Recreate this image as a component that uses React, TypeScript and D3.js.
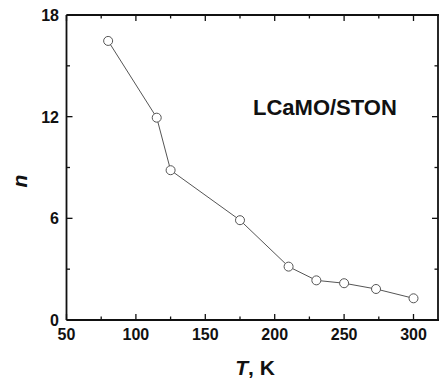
import React from "react";
import * as d3 from "d3";

// Temperature (K) and ideality factor n
const temperatures = [80, 115, 125, 175, 210, 230, 250, 273, 300];
const nValues = [16.47, 11.94, 8.84, 5.89, 3.15, 2.34, 2.17, 1.83, 1.28];

const xMajorTicks = [50, 100, 150, 200, 250, 300];
const xMinorTicks = [75, 125, 175, 225, 275];
const yMajorTicks = [0, 6, 12, 18];
const yMinorTicks = [3, 9, 15];

const W = 439;
const H = 381;
const left = 66.5;
const right = 439;
const top = 15;
const bottom = 320;

export default function App() {
  const x = d3.scaleLinear().domain([50, 50 + (right - left) / 1.388]).range([left, right]);
  const y = d3.scaleLinear().domain([0, 18]).range([bottom, top]);
  const line = d3
    .line<number>()
    .x((_, i) => x(temperatures[i]))
    .y((d) => y(d));

  const font = "'Liberation Sans', Arial, sans-serif";
  const axisColor = "#111";

  return (
    <svg
      width={W}
      height={H}
      style={{ position: "absolute", left: 0, top: 0, background: "#fff" }}
      fontFamily={font}
    >
      {/* frame */}
      <line x1={left} x2={left} y1={top} y2={bottom} stroke={axisColor} strokeWidth={1.8} />
      <line x1={left} x2={right} y1={bottom} y2={bottom} stroke={axisColor} strokeWidth={1.8} />
      <line x1={left} x2={right} y1={top} y2={top} stroke={axisColor} strokeWidth={1.8} />
      <line x1={right - 1} x2={right - 1} y1={top} y2={bottom} stroke={axisColor} strokeWidth={1.8} />

      {/* x ticks, bottom and top, inward */}
      {xMajorTicks.map((t) => (
        <g key={"xM" + t}>
          <line x1={x(t)} x2={x(t)} y1={bottom} y2={bottom - 6} stroke={axisColor} strokeWidth={1.3} />
          <line x1={x(t)} x2={x(t)} y1={top} y2={top + 6} stroke={axisColor} strokeWidth={1.3} />
          <text x={x(t)} y={340} textAnchor="middle" fontSize={16} fontWeight="bold" fill="#111">
            {t}
          </text>
        </g>
      ))}
      {xMinorTicks.map((t) => (
        <g key={"xm" + t}>
          <line x1={x(t)} x2={x(t)} y1={bottom} y2={bottom - 3.5} stroke={axisColor} strokeWidth={1.3} />
          <line x1={x(t)} x2={x(t)} y1={top} y2={top + 3.5} stroke={axisColor} strokeWidth={1.3} />
        </g>
      ))}

      {/* y ticks, left and right, inward */}
      {yMajorTicks.map((t) => (
        <g key={"yM" + t}>
          <line x1={left} x2={left + 6} y1={y(t)} y2={y(t)} stroke={axisColor} strokeWidth={1.3} />
          <line x1={right - 1} x2={right - 7} y1={y(t)} y2={y(t)} stroke={axisColor} strokeWidth={1.3} />
          <text x={59} y={y(t) + 6} textAnchor="end" fontSize={16} fontWeight="bold" fill="#111">
            {t}
          </text>
        </g>
      ))}
      {yMinorTicks.map((t) => (
        <g key={"ym" + t}>
          <line x1={left} x2={left + 3.5} y1={y(t)} y2={y(t)} stroke={axisColor} strokeWidth={1.3} />
          <line x1={right - 1} x2={right - 4.5} y1={y(t)} y2={y(t)} stroke={axisColor} strokeWidth={1.3} />
        </g>
      ))}

      {/* data */}
      <path d={line(nValues) || ""} fill="none" stroke="#555" strokeWidth={1} />
      {nValues.map((v, i) => (
        <circle
          key={i}
          cx={x(temperatures[i])}
          cy={y(v)}
          r={4.5}
          fill="#fff"
          stroke="#555"
          strokeWidth={1}
        />
      ))}

      {/* sample label */}
      <text x={253} y={115} fontSize={22} fontWeight="bold" fill="#111">
        LCaMO/STON
      </text>

      {/* axis titles */}
      <text x={255} y={375} textAnchor="middle" fontSize={21} fontWeight="bold" fill="#111">
        <tspan fontStyle="italic">T</tspan>, K
      </text>
      <text
        transform="translate(27,181) rotate(-90)"
        textAnchor="middle"
        fontSize={21}
        fontWeight="bold"
        fontStyle="italic"
        fill="#111"
      >
        n
      </text>
    </svg>
  );
}
